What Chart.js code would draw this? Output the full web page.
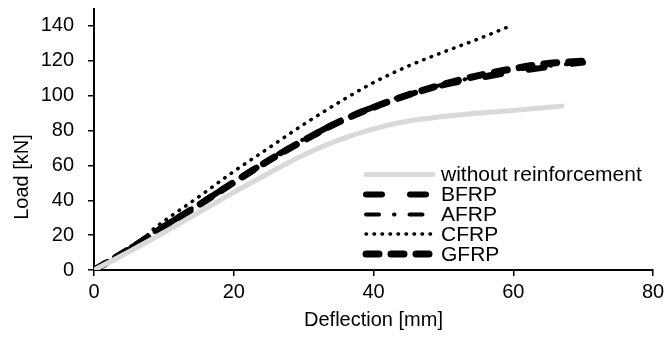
<!DOCTYPE html>
<html>
<head>
<meta charset="utf-8">
<script src="https://cdn.jsdelivr.net/npm/chart.js@4/dist/chart.umd.min.js"></script>
<style>
	html, body { margin: 0; padding: 0; background: #fff; }
	#wrap { width: 666px; height: 338px; position: relative; }
</style>
</head>
<body>
<div id="wrap"><canvas id="chart"></canvas></div>
<script>
// ---------- DATA ----------
const seriesNames = ['without reinforcement', 'BFRP', 'AFRP', 'CFRP', 'GFRP'];

const deflWithout = [0, 5, 10, 15, 20, 25, 30, 35, 40, 45, 50, 55, 60, 67];
const loadWithout = [0, 10.5, 21.5, 33, 44.5, 55.5, 66, 74.5, 81, 85.5, 88, 90, 91.5, 94];

const deflBFRP = [0, 5, 10, 15, 20, 25, 30, 35, 40, 45, 50, 55, 60, 65, 70];
const loadBFRP = [0, 12, 25, 37.5, 50.5, 63, 74.5, 85, 93.5, 100.5, 106, 110, 113.5, 116.5, 119];

const deflAFRP = [0, 5, 10, 15, 20, 25, 30, 35, 40, 45, 50, 55, 60, 65, 69];
const loadAFRP = [0, 12.2, 25.3, 38, 51, 63.5, 75, 85.5, 94, 101, 106.5, 111, 114.5, 117, 118.5];

const deflCFRP = [0, 5, 7.5, 8.5, 10, 15, 20, 25, 30, 35, 40, 45, 50, 55, 59];
const loadCFRP = [0, 12.5, 19.5, 23.5, 28, 42, 56.5, 70, 83.5, 96, 107.5, 117, 125, 132.5, 139];

const deflGFRP = [0, 5, 10, 15, 20, 25, 30, 35, 40, 45, 50, 55, 60, 65, 70.3];
const loadGFRP = [0, 11.8, 24.8, 37.3, 50.3, 62.8, 74.3, 84.8, 93.3, 100.5, 106.5, 111.5, 115.5, 118.5, 119.8];

const xTicks = [0, 20, 40, 60, 80];
const yTicks = [0, 20, 40, 60, 80, 100, 120, 140];

const FONT = '"Liberation Sans", Arial, sans-serif';

function toPoints(xs, ys) {
	return xs.map((x, i) => ({ x: x, y: ys[i] }));
}

// ---------- LEGEND (inside plot, Excel style) ----------
const insideLegend = {
	id: 'insideLegend',
	afterDraw(chart) {
		const { ctx } = chart;
		const rows = [174.5, 194.5, 214.5, 234, 254];
		ctx.save();
		chart.data.datasets.forEach((ds, i) => {
			const y = rows[i];
			ctx.beginPath();
			ctx.setLineDash(ds.borderDash || []);
			ctx.lineWidth = ds.borderWidth;
			ctx.lineCap = 'round';
			ctx.strokeStyle = ds.borderColor;
			ctx.moveTo(366, y);
			ctx.lineTo(433, y);
			ctx.stroke();
			ctx.setLineDash([]);
			ctx.font = '21px ' + FONT;
			ctx.fillStyle = '#000';
			ctx.textAlign = 'left';
			ctx.textBaseline = 'middle';
			ctx.fillText(ds.label, 441, y + 1);
		});
		// y axis title
		ctx.translate(21, 177);
		ctx.rotate(-Math.PI / 2);
		ctx.font = '20px ' + FONT;
		ctx.textAlign = 'center';
		ctx.textBaseline = 'middle';
		ctx.fillText('Load [kN]', 0, 1);
		ctx.restore();
	},
};

new Chart(document.getElementById('chart'), {
	type: 'line',
	data: {
		datasets: [
			{
				label: seriesNames[0],
				data: toPoints(deflWithout, loadWithout),
				borderColor: '#d9d9d9',
				borderWidth: 5,
			},
			{
				label: seriesNames[1],
				data: toPoints(deflBFRP, loadBFRP),
				borderColor: '#000',
				borderWidth: 6,
				borderDash: [16, 28],
			},
			{
				label: seriesNames[2],
				data: toPoints(deflAFRP, loadAFRP),
				borderColor: '#000',
				borderWidth: 4,
				borderDash: [13, 15, 0.5, 15],
			},
			{
				label: seriesNames[3],
				data: toPoints(deflCFRP, loadCFRP),
				borderColor: '#000',
				borderWidth: 3.5,
				borderDash: [0.5, 7.5],
			},
			{
				label: seriesNames[4],
				data: toPoints(deflGFRP, loadGFRP),
				borderColor: '#000',
				borderWidth: 7,
				borderDash: [13, 12],
			},
		],
	},
	options: {
		responsive: true,
		maintainAspectRatio: false,
		animation: false,
		layout: { padding: { top: 8.5, right: 13, left: 0, bottom: 0 } },
		elements: {
			point: { radius: 0 },
			line: { cubicInterpolationMode: 'monotone', borderCapStyle: 'round', borderJoinStyle: 'round' },
		},
		plugins: {
			legend: { display: false },
			tooltip: { enabled: false },
		},
		scales: {
			x: {
				type: 'linear',
				min: 0,
				max: 80,
				afterBuildTicks(scale) {
					scale.ticks = xTicks.map((v) => ({ value: v }));
				},
				afterFit(scale) {
					scale.height = 68;
					scale.paddingLeft = 0;
					scale.paddingRight = 0;
				},
				ticks: { color: '#000', padding: 4, font: { family: FONT, size: 20 } },
				border: { color: '#000', width: 2 },
				grid: { drawOnChartArea: false, tickLength: 6, color: '#000', lineWidth: 1.5 },
				title: {
					display: true,
					text: 'Deflection [mm]',
					color: '#000',
					font: { family: FONT, size: 20 },
					padding: { top: 6, bottom: 6 },
				},
			},
			y: {
				min: 0,
				max: 150,
				afterBuildTicks(scale) {
					scale.ticks = yTicks.map((v) => ({ value: v }));
				},
				afterFit(scale) {
					scale.width = 94;
					scale.paddingTop = 0;
					scale.paddingBottom = 0;
				},
				ticks: { color: '#000', padding: 14, font: { family: FONT, size: 20 } },
				border: { color: '#000', width: 2 },
				grid: { drawOnChartArea: false, tickLength: 6, color: '#000', lineWidth: 1.5 },
			},
		},
	},
	plugins: [insideLegend],
});
</script>
</body>
</html>
